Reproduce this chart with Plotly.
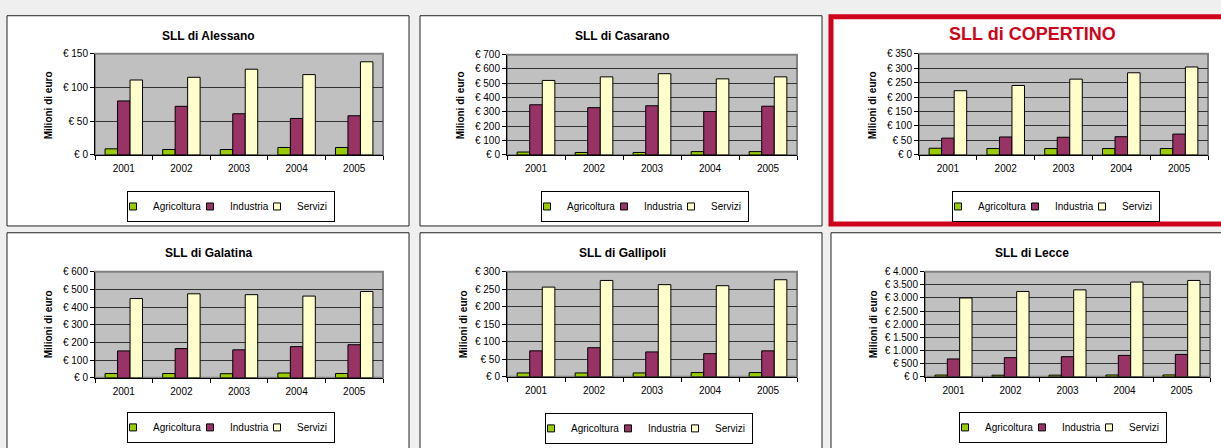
import plotly.graph_objects as go

# ---------------- data ----------------
years = ["2001", "2002", "2003", "2004", "2005"]
series_names = ["Agricoltura", "Industria", "Servizi"]

alessano_agricoltura = [9, 8, 8, 11, 11]
alessano_industria = [80, 72, 61, 54, 58]
alessano_servizi = [111, 115, 127, 119, 138]

casarano_agricoltura = [20, 17, 17, 23, 23]
casarano_industria = [350, 330, 343, 303, 340]
casarano_servizi = [520, 545, 567, 531, 545]

copertino_agricoltura = [23, 22, 22, 22, 22]
copertino_industria = [58, 62, 61, 63, 72]
copertino_servizi = [222, 240, 262, 284, 304]

galatina_agricoltura = [24, 24, 23, 27, 24]
galatina_industria = [152, 165, 158, 176, 187]
galatina_servizi = [448, 475, 470, 462, 488]

gallipoli_agricoltura = [11, 11, 11, 12, 12]
gallipoli_industria = [74, 83, 71, 66, 74]
gallipoli_servizi = [256, 275, 263, 260, 277]

lecce_agricoltura = [65, 60, 62, 68, 70]
lecce_industria = [679, 728, 765, 815, 852]
lecce_servizi = [3000, 3247, 3309, 3605, 3667]

titles = ["SLL di Alessano", "SLL di Casarano", "SLL di COPERTINO",
          "SLL di Galatina", "SLL di Gallipoli", "SLL di Lecce"]
y_max = [150, 700, 350, 600, 300, 4000]
y_step = [50, 100, 50, 100, 50, 500]
y_axis_label = "Milioni di euro"

panel_values = [
    (alessano_agricoltura, alessano_industria, alessano_servizi),
    (casarano_agricoltura, casarano_industria, casarano_servizi),
    (copertino_agricoltura, copertino_industria, copertino_servizi),
    (galatina_agricoltura, galatina_industria, galatina_servizi),
    (gallipoli_agricoltura, gallipoli_industria, gallipoli_servizi),
    (lecce_agricoltura, lecce_industria, lecce_servizi),
]

# ---------------- styling / layout ----------------
colors = ["#99cc00", "#993366", "#ffffcc"]
legend_entry_widths = [47, 37, 32]
W, H = 1221, 448
FONT = "Liberation Sans, Arial, sans-serif"
RED = "#d0021b"


def fx(x):
    return x / W


def fy(y):
    return 1 - y / H


# pixel geometry of each panel
panel_geom = [
    dict(box=(7, 10, 409, 226), plot=(95, 49, 383, 153), title=(208, 31), ylab=(48, 102), legend=(231, 206)),
    dict(box=(420, 10, 822, 226), plot=(507, 50, 797, 153), title=(622, 31), ylab=(460, 102), legend=(645, 206)),
    dict(box=(831, 11, 1226, 224), plot=(919, 49, 1208, 153), title=(1032, 29), ylab=(872, 102), legend=(1056, 206)),
    dict(box=(7, 233, 409, 455), plot=(95, 273, 383, 382), title=(208, 254), ylab=(48, 327), legend=(231, 433)),
    dict(box=(420, 233, 822, 455), plot=(507, 273, 797, 381), title=(622, 254), ylab=(463, 327), legend=(649, 434)),
    dict(box=(831, 233, 1226, 455), plot=(925, 273, 1210, 381), title=(1032, 254), ylab=(873, 327), legend=(1063, 433)),
]

fig = go.Figure()
shapes = []
annotations = []
layout_extra = {}

# panel backgrounds
for i, g in enumerate(panel_geom):
    x0, y0, x1, y1 = g["box"]
    highlighted = (i == 2)
    shapes.append(dict(type="rect", xref="paper", yref="paper",
                       x0=fx(x0), x1=fx(x1), y0=fy(y0), y1=fy(y1),
                       fillcolor="white",
                       line=dict(color=RED if highlighted else "#222222", width=5 if highlighted else 1),
                       layer="below"))

for i, g in enumerate(panel_geom):
    n = i + 1
    sfx = "" if n == 1 else str(n)
    xa, ya = "x" + sfx, "y" + sfx
    leg = "legend" + sfx
    px0, py0, px1, py1 = g["plot"]

    for name, vals, col in zip(series_names, panel_values[i], colors):
        fig.add_trace(go.Bar(
            x=years, y=vals, name=name, xaxis=xa, yaxis=ya, legend=leg,
            marker=dict(color=col, line=dict(color="black", width=1)),
            showlegend=False, hoverinfo="x+y+name",
        ))
    # legend entries (small square swatches, like the original)
    for name, col, lw in zip(series_names, colors, legend_entry_widths):
        fig.add_trace(go.Scatter(
            x=[None], y=[None], name=name, xaxis=xa, yaxis=ya, legend=leg,
            mode="markers", showlegend=True, legendwidth=lw,
            marker=dict(symbol="square", size=7, color=col, line=dict(color="black", width=1)),
        ))

    layout_extra["xaxis" + sfx] = dict(
        domain=[fx(px0), fx(px1)], anchor=ya, type="category",
        tickson="boundaries", ticks="outside", ticklen=4, tickcolor="black",
        showline=True, linecolor="black", linewidth=1, showgrid=False,
        ticklabelstandoff=4,
        tickfont=dict(size=10, color="black", family=FONT), fixedrange=True,
    )
    layout_extra["yaxis" + sfx] = dict(
        domain=[fy(py1), fy(py0)], anchor=xa, range=[0, y_max[i]], dtick=y_step[i],
        tick0=0, ticks="outside", ticklen=4, tickcolor="black",
        showline=True, linecolor="black", linewidth=1,
        showgrid=True, gridcolor="#333333", gridwidth=1, zeroline=False,
        tickprefix="€ ", tickformat=",d",
        tickfont=dict(size=10, color="black", family=FONT), fixedrange=True,
    )
    # plot area frame / background
    shapes.append(dict(type="rect", xref=xa + " domain", yref=ya + " domain",
                       x0=0, x1=1, y0=0, y1=1, fillcolor="#c0c0c0",
                       line=dict(color="#808080", width=2), layer="below"))

    lx, ly = g["legend"]
    layout_extra[leg] = dict(
        x=fx(lx), y=fy(ly), xanchor="center", yanchor="middle",
        orientation="h", bgcolor="white", bordercolor="black", borderwidth=1,
        font=dict(size=10, color="black", family=FONT), itemwidth=30,
        indentation=-15, entrywidthmode="pixels",
        tracegroupgap=0, itemclick=False, itemdoubleclick=False,
    )

    tx, ty = g["title"]
    if i == 2:
        tfont = dict(size=18, color=RED, family="Liberation Sans Narrow, Arial Narrow, " + FONT)
    else:
        tfont = dict(size=12, color="black", family=FONT)
    annotations.append(dict(text="<b>" + titles[i] + "</b>", xref="paper", yref="paper",
                            x=fx(tx), y=fy(ty), xanchor="center", yanchor="middle",
                            showarrow=False, font=tfont))
    yx, yy = g["ylab"]
    annotations.append(dict(text="<b>" + y_axis_label + "</b>", xref="paper", yref="paper",
                            x=fx(yx), y=fy(yy), xanchor="center", yanchor="middle",
                            textangle=-90, showarrow=False,
                            font=dict(size=10, color="black", family=FONT)))

fig.update_layout(
    width=W, height=H, autosize=False,
    margin=dict(l=0, r=0, t=0, b=0),
    paper_bgcolor="#efefef", plot_bgcolor="rgba(0,0,0,0)",
    barmode="group", bargap=0.35, bargroupgap=0,
    separators=",.",
    font=dict(family=FONT, size=10, color="black"),
    shapes=shapes, annotations=annotations,
    **layout_extra,
)

fig.write_html("out.html", config={"displayModeBar": False},
               post_script="document.body.style.margin='0px';document.body.style.background='#efefef';")
